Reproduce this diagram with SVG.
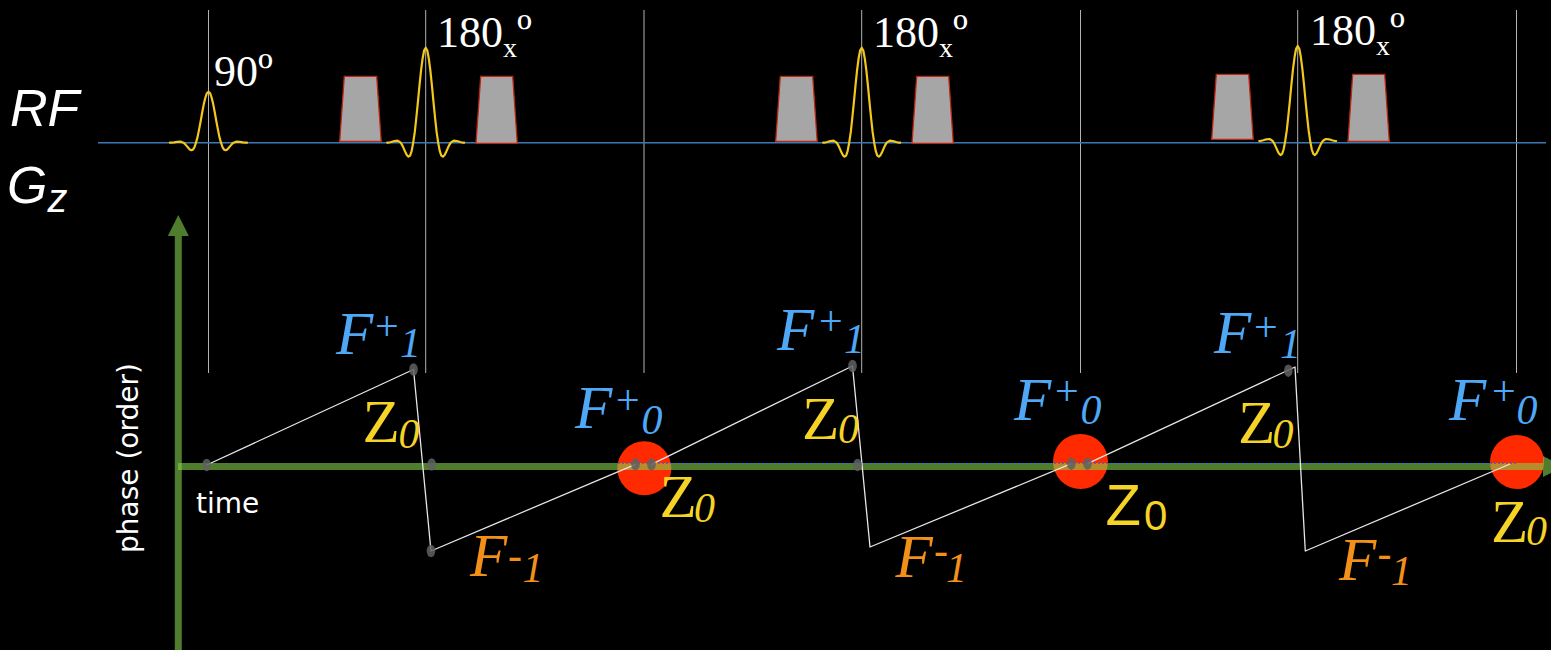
<svg xmlns="http://www.w3.org/2000/svg" xmlns:xlink="http://www.w3.org/1999/xlink" width="1551" height="650" viewBox="0 0 1551 650">
<style>
.vl{stroke:#b3b3b3;stroke-width:1;fill:none}
.sinc{fill:none;stroke:#f2c81a;stroke-width:2.2;stroke-linejoin:round;stroke-linecap:round}
.trap{fill:#a6a6a6;stroke:#c0260f;stroke-width:1.3}
.deg{font-family:"Liberation Serif","Times New Roman",serif;fill:#fff;font-size:44px}
.lab{font-family:"Liberation Sans",Arial,sans-serif;font-style:italic;fill:#fff}
.ser{font-family:"Liberation Serif","Times New Roman",serif}
.big{font-size:61px}
.sm{font-size:42px}
.it{font-style:italic}
.blue{fill:#4ea8f5}
.yel{fill:#f5d327}
.org{fill:#f39019}
.wl{fill:none;stroke:#e6e6e6;stroke-width:1.3;stroke-linejoin:round}
.dot{fill:#606060;opacity:0.85}
.red{fill:#ff2a00}
.sans{font-family:"DejaVu Sans",Verdana,sans-serif;fill:#fff;font-size:28px}
</style>
<defs>
<path id="s180" d="M-38.5,0 L-37.5,0 -34.4,-0.7 -31.25,-1.7 -28.1,-2 -25,0 -23.4,2.6 -21.9,5.9 -20.3,9.5 -18.75,12.5 -17.2,14 -15.6,12.9 -14.1,8.5 -12.5,0 -10.9,-10.8 -9.4,-24.7 -7.8,-40.5 -6.25,-56.8 -4.7,-71.9 -3.1,-84.2 -1.6,-92.2 0,-95 1.6,-92.2 3.1,-84.2 4.7,-71.9 6.25,-56.8 7.8,-40.5 9.4,-24.7 10.9,-10.8 12.5,0 14.1,8.5 15.6,12.9 17.2,14 18.75,12.5 20.3,9.5 21.9,5.9 23.4,2.6 25,0 28.1,-2 31.25,-1.7 34.4,-0.7 37.5,0 38.5,0"/>
<path id="s90" d="M-38.5,0 L-37.5,0 -34.4,-0.4 -31.25,-0.9 -28.1,-1.1 -25,0 -23.4,1.4 -21.9,3.2 -20.3,5.1 -18.75,6.7 -17.2,7.5 -15.6,6.9 -14.1,4.6 -12.5,0 -10.9,-5.8 -9.4,-13.3 -7.8,-21.7 -6.25,-30.5 -4.7,-38.6 -3.1,-45.2 -1.6,-49.5 0,-51 1.6,-49.5 3.1,-45.2 4.7,-38.6 6.25,-30.5 7.8,-21.7 9.4,-13.3 10.9,-5.8 12.5,0 14.1,4.6 15.6,6.9 17.2,7.5 18.75,6.7 20.3,5.1 21.9,3.2 23.4,1.4 25,0 28.1,-1.1 31.25,-0.9 34.4,-0.4 37.5,0 38.5,0"/>
<g id="traps">
<polygon points="-86,141.3 -81.4,76.3 -49,76.3 -44.5,141.3"/>
<polygon points="50.3,143.3 55,76.3 87,76.3 91.6,143.3"/>
</g>
</defs>
<rect x="0" y="0" width="1551" height="650" fill="#000"/>

<g id="timing-lines">
<line class="vl" x1="208.5" y1="10" x2="208.5" y2="373"/>
<line class="vl" x1="425.7" y1="10" x2="425.7" y2="373"/>
<line class="vl" x1="644" y1="10" x2="644" y2="373"/>
<line class="vl" x1="861.7" y1="10" x2="861.7" y2="373"/>
<line class="vl" x1="1080.5" y1="10" x2="1080.5" y2="373"/>
<line class="vl" x1="1297.7" y1="10" x2="1297.7" y2="373"/>
<line class="vl" x1="1516.5" y1="10" x2="1516.5" y2="373"/>
</g>

<g id="rf-baseline">
<line x1="98" y1="142.7" x2="1546" y2="142.7" stroke="#3d7ab5" stroke-width="1.6"/>
</g>

<g id="gradients" class="trap">
<use xlink:href="#traps" x="425.7" y="0"/>
<use xlink:href="#traps" x="861.7" y="0"/>
<use xlink:href="#traps" x="1297.7" y="-2"/>
</g>

<g id="rf-pulses" class="sinc">
<use xlink:href="#s90" x="208.5" y="142.7"/>
<use xlink:href="#s180" x="425.7" y="142.7"/>
<use xlink:href="#s180" x="861.7" y="142.7"/>
<use xlink:href="#s180" x="1297.7" y="141"/>
</g>

<g id="pulse-labels" class="deg">
<text x="214" y="86">90<tspan font-size="48">º</tspan></text>
<text x="437" y="47">180<tspan font-size="28" dy="10">x</tspan><tspan dy="-10" font-size="48">º</tspan></text>
<text x="873" y="47">180<tspan font-size="28" dy="10">x</tspan><tspan dy="-10" font-size="48">º</tspan></text>
<text x="1310" y="45">180<tspan font-size="28" dy="10">x</tspan><tspan dy="-10" font-size="48">º</tspan></text>
</g>

<g id="axis-labels">
<text class="lab" x="10" y="125.7" font-size="52">RF</text>
<text class="lab" x="7" y="202.7" font-size="52">G<tspan font-size="40" y="212">z</tspan></text>
<text class="sans" transform="translate(138,458) rotate(-90)" text-anchor="middle">phase (order)</text>
<text class="sans" x="196" y="512.7">time</text>
</g>

<g id="echo-circles">
<circle class="red" cx="644.3" cy="468.3" r="27"/>
<circle class="red" cx="1080.5" cy="461.5" r="27.5"/>
<circle class="red" cx="1517" cy="462" r="27"/>
</g>

<g id="axes">
<line x1="178.3" y1="233" x2="178.3" y2="650" stroke="#4f7d2d" stroke-width="7"/>
<polygon points="178.3,215 167.8,236 188.8,236" fill="#4f7d2d"/>
<g opacity="0.6">
<line x1="178" y1="466.5" x2="1545" y2="466.5" stroke="#84d04b" stroke-width="7"/>
<polygon points="1543,456 1543,477 1564,466.5" fill="#84d04b"/>
</g>
<line x1="618" y1="463.5" x2="1517" y2="463.5" stroke="#2f6fe0" stroke-width="1.2" stroke-dasharray="2 2"/>
</g>

<g id="connectors" class="wl">
<polyline points="206.7,465 413.5,369.5 431,551 635.5,464.3"/>
<polyline points="651.5,464.3 852.5,366 870,547 1071.3,463.7"/>
<polyline points="1087.5,463.7 1295,367 1305.3,551 1510,464"/>
</g>

<g id="states">
<g id="n-start"><ellipse class="dot" cx="206.7" cy="465" rx="4.3" ry="6.2"/></g>
<g id="n-f1-a"><ellipse class="dot" cx="413.5" cy="369.5" rx="4.3" ry="6.2"/></g>
<g id="n-z0-a"><ellipse class="dot" cx="431.7" cy="464.5" rx="4.3" ry="6.2"/></g>
<g id="n-fm1-a"><ellipse class="dot" cx="431" cy="551" rx="4.3" ry="6.2"/></g>
<g id="n-echo-a"><ellipse class="dot" cx="635.5" cy="464.3" rx="4.3" ry="6.2"/><ellipse class="dot" cx="651.5" cy="464.3" rx="4.3" ry="6.2"/></g>
<g id="n-f1-b"><ellipse class="dot" cx="852.5" cy="366" rx="4.3" ry="6.2"/></g>
<g id="n-z0-b"><ellipse class="dot" cx="857.5" cy="465" rx="4.3" ry="6.2"/></g>
<g id="n-echo-b"><ellipse class="dot" cx="1071.3" cy="463.7" rx="4.3" ry="6.2"/><ellipse class="dot" cx="1087.5" cy="463.7" rx="4.3" ry="6.2"/></g>
<g id="n-f1-c"><ellipse class="dot" cx="1288.3" cy="370.7" rx="4.3" ry="6.2"/></g>
</g>

<g id="state-labels" class="ser">
<text class="blue"><tspan class="it big" x="336" y="354">F</tspan><tspan class="sm" x="375" y="340">+</tspan><tspan class="it sm" x="400" y="357">1</tspan></text>
<text class="blue"><tspan class="it big" x="777" y="350">F</tspan><tspan class="sm" x="819" y="334.5">+</tspan><tspan class="it sm" x="844" y="353">1</tspan></text>
<text class="blue"><tspan class="it big" x="1214" y="353">F</tspan><tspan class="sm" x="1254" y="340.5">+</tspan><tspan class="it sm" x="1280" y="358">1</tspan></text>

<text class="blue"><tspan class="it big" x="575" y="428">F</tspan><tspan class="sm" x="616" y="414">+</tspan><tspan class="it sm" x="641.5" y="434">0</tspan></text>
<text class="blue"><tspan class="it big" x="1014" y="420">F</tspan><tspan class="sm" x="1055" y="404.5">+</tspan><tspan class="it sm" x="1080.5" y="424">0</tspan></text>
<text class="blue"><tspan class="it big" x="1449" y="420">F</tspan><tspan class="sm" x="1492" y="404.5">+</tspan><tspan class="it sm" x="1516.5" y="424">0</tspan></text>

<text class="yel"><tspan class="big" x="362.5" y="441.7">Z</tspan><tspan class="it sm" x="398.5" y="448">0</tspan></text>
<text class="yel"><tspan class="big" x="802" y="439">Z</tspan><tspan class="it sm" x="838" y="443">0</tspan></text>
<text class="yel"><tspan class="big" x="1238" y="442.7">Z</tspan><tspan class="it sm" x="1272.5" y="448">0</tspan></text>
<text class="yel"><tspan class="big" x="659.5" y="516.7">Z</tspan><tspan class="it sm" x="694" y="521.7">0</tspan></text>
<text class="yel" font-family="Liberation Sans, Arial, sans-serif"><tspan font-size="58" x="1105.5" y="525">Z</tspan><tspan font-size="42" x="1144" y="530">0</tspan></text>
<text class="yel"><tspan class="big" x="1491" y="541.7">Z</tspan><tspan class="it sm" x="1526" y="545">0</tspan></text>

<text class="org"><tspan class="it big" x="470" y="576">F</tspan><tspan class="it sm" x="508" y="569">-</tspan><tspan class="it sm" x="522.5" y="581.7">1</tspan></text>
<text class="org"><tspan class="it big" x="895.5" y="576.7">F</tspan><tspan class="it sm" x="934" y="564">-</tspan><tspan class="it sm" x="946" y="581.7">1</tspan></text>
<text class="org"><tspan class="it big" x="1339" y="580">F</tspan><tspan class="it sm" x="1377.5" y="566.5">-</tspan><tspan class="it sm" x="1391" y="585">1</tspan></text>
</g>
</svg>
